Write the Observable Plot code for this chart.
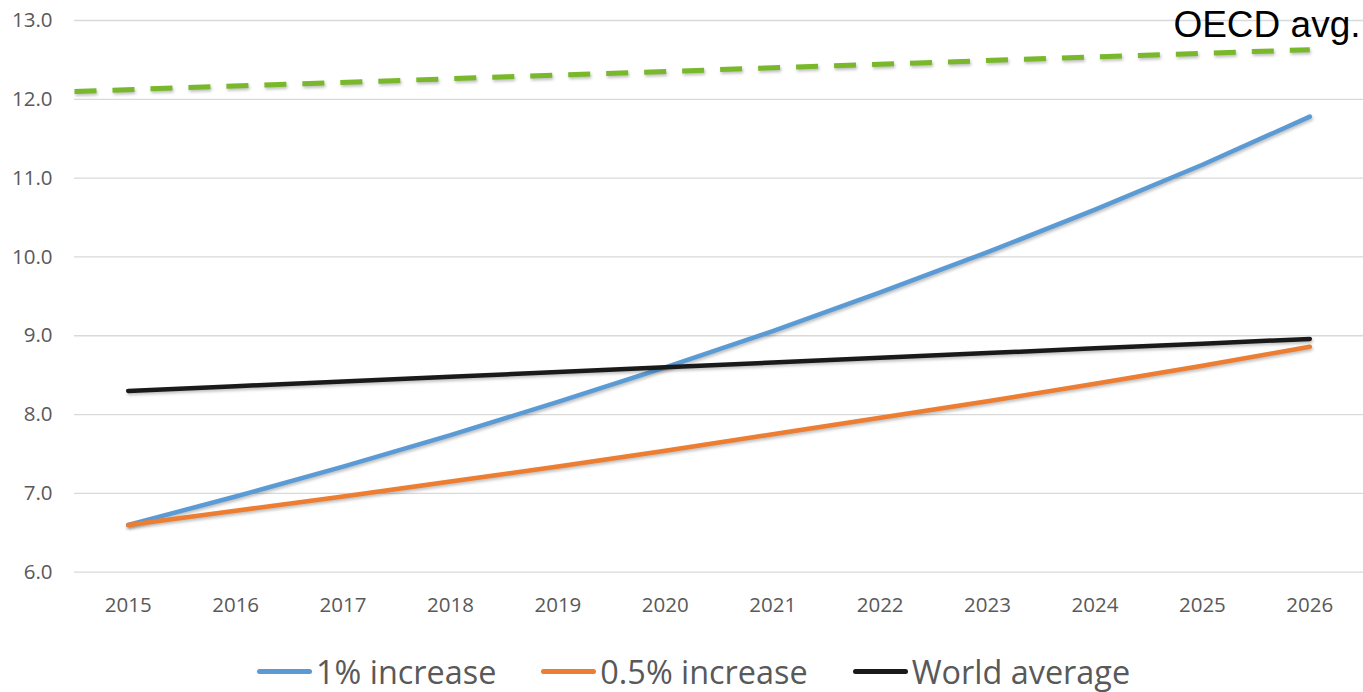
<!DOCTYPE html>
<html>
<head>
<meta charset="utf-8">
<script src="https://cdn.jsdelivr.net/npm/d3@7"></script>
<script src="https://cdn.jsdelivr.net/npm/@observablehq/plot@0.6"></script>
<style>
  html, body { margin: 0; padding: 0; background: #fff; overflow: hidden; }
  #chart svg { display: block; }
  #chart g[aria-label="line"] path { filter: drop-shadow(1px 2px 1.5px rgba(0,0,0,0.25)); }
  #legend { display: flex; align-items: center; padding-left: 257px; gap: 45px; height: 46px;
            font-family: "Open Sans", sans-serif; font-size: 32.4px; line-height: 44px; color: #595959; margin-top: 8px; }
  .item { display: flex; align-items: center; gap: 4px; white-space: nowrap; }
  .sw { width: 55px; height: 5px; border-radius: 3px; }
</style>
</head>
<body>
<div id="chart"></div>
<div id="legend"></div>
<script>
const years = [2015, 2016, 2017, 2018, 2019, 2020, 2021, 2022, 2023, 2024, 2025, 2026];
const increase1 = [6.60, 6.96, 7.34, 7.74, 8.16, 8.60, 9.06, 9.55, 10.06, 10.60, 11.17, 11.78];
const increase05 = [6.60, 6.78, 6.96, 7.15, 7.34, 7.54, 7.75, 7.96, 8.17, 8.39, 8.62, 8.86];
const worldAvg = [8.30, 8.36, 8.42, 8.48, 8.54, 8.60, 8.66, 8.72, 8.78, 8.84, 8.90, 8.96];
const oecdYears = [2014.5, 2026];
const oecdValues = [12.10, 12.63];
const oecdLabel = ["OECD avg."];
const yTicks = [6, 7, 8, 9, 10, 11, 12, 13];
const seriesNames = ["1% increase", "0.5% increase", "World average"];
const seriesColors = ["#5b9bd5", "#ed7d31", "#1a1a1a"];
const oecdColor = "#78b82a";

const rows = [];
[increase1, increase05, worldAvg].forEach((vals, i) => {
  vals.forEach((v, j) => rows.push({series: seriesNames[i], year: years[j], value: v}));
});
const oecdRows = oecdYears.map((y, i) => ({year: y, value: oecdValues[i]}));

const chart = Plot.plot({
  width: 1363,
  height: 640,
  marginLeft: 74,
  marginRight: 0,
  marginTop: 20,
  marginBottom: 68.3,
  style: {fontFamily: "Open Sans, sans-serif", fontSize: "20.5px", color: "#595959", background: "#fff"},
  x: {domain: [2014.5, 2026.5], ticks: years, tickFormat: "d", tickSize: 0, tickPadding: 25, label: null},
  y: {domain: [6, 13], ticks: yTicks, tickFormat: d3.format(".1f"), tickSize: 0, tickPadding: 22, label: null},
  color: {domain: seriesNames, range: seriesColors},
  marks: [
    Plot.ruleY(yTicks, {stroke: "#d9d9d9", strokeWidth: 1.3}),
    Plot.axisX({ticks: years, tickFormat: "d", tickSize: 0, tickPadding: 25, label: null, fill: "#595959"}),
    Plot.axisY({ticks: yTicks, tickFormat: d3.format(".1f"), tickSize: 0, tickPadding: 22, label: null, fill: "#595959"}),
    Plot.line(oecdRows, {x: "year", y: "value", stroke: oecdColor, strokeWidth: 5, strokeDasharray: "22 16", strokeLinecap: "butt"}),
    Plot.line(rows, {x: "year", y: "value", z: "series", stroke: "series", strokeWidth: 4.5, strokeLinecap: "round", strokeLinejoin: "round"}),
    Plot.text(oecdLabel, {frameAnchor: "top-right", textAnchor: "end", lineAnchor: "middle", dx: -3, dy: 5,
      fontFamily: "Liberation Sans, Arial, sans-serif", fontSize: 37, fill: "#000"})
  ]
});
document.getElementById("chart").appendChild(chart);

const legend = document.getElementById("legend");
seriesNames.forEach((name, i) => {
  const item = document.createElement("div");
  item.className = "item";
  const sw = document.createElement("div");
  sw.className = "sw";
  sw.style.background = seriesColors[i];
  const t = document.createElement("span");
  t.textContent = name;
  item.appendChild(sw);
  item.appendChild(t);
  legend.appendChild(item);
});
</script>
</body>
</html>
